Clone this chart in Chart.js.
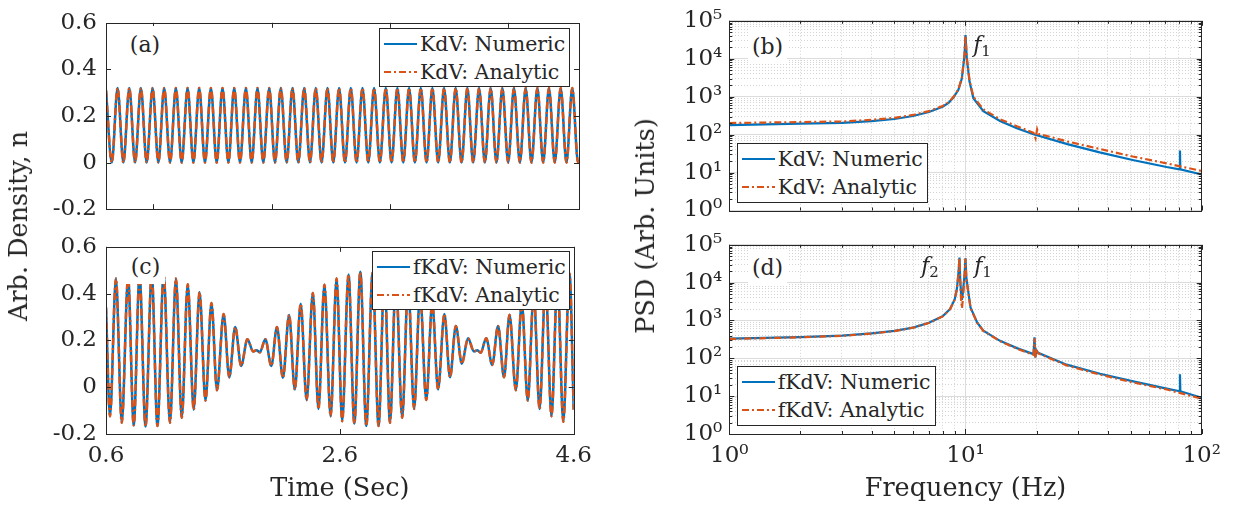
<!DOCTYPE html>
<html>
<head>
<meta charset="utf-8">
<script src="https://cdn.jsdelivr.net/npm/chart.js@4.4.1/dist/chart.umd.min.js"></script>
<style>
body { margin: 0; background: #fff; }
#fig { position: relative; width: 1238px; height: 508px; overflow: hidden; font-family: 'DejaVu Serif', serif; color: #262626; }
.panel { position: absolute; }
.tag { position: absolute; background: #fff; font-size: 22px; width: 39px; height: 36px; display: flex; align-items: center; justify-content: center; }
.ann { position: absolute; font-size: 22px; transform: translate(-50%, -50%); white-space: nowrap; }
.ann i { font-style: italic; }
.ann sub { font-size: 15px; vertical-align: -4px; }
.legend { position: absolute; background: #fff; border: 1px solid #262626; box-sizing: border-box; font-size: 20.5px; }
.legend .row { position: absolute; left: 0; height: 28px; display: flex; align-items: center; white-space: nowrap; }
.legend svg { margin-left: 4px; margin-right: 3px; }
.ytitle { position: absolute; font-size: 25.5px; transform: translate(-50%, -50%) rotate(-90deg); white-space: nowrap; }
</style>
</head>
<body>
<div id="fig">
	<div class="panel" style="left:0;top:0"><canvas id="chartA" width="600" height="232"></canvas></div>
	<div class="panel" style="left:0;top:224px"><canvas id="chartC" width="600" height="284"></canvas></div>
	<div class="panel" style="left:620px;top:0"><canvas id="chartB" width="618" height="232"></canvas></div>
	<div class="panel" style="left:620px;top:224px"><canvas id="chartD" width="618" height="284"></canvas></div>

	<div class="ytitle" style="left:18px;top:226px">Arb. Density, n</div>
	<div class="ytitle" style="left:645px;top:226px">PSD (Arb. Units)</div>

	<div class="tag" style="left:125.5px;top:26px">(a)</div>
	<div class="tag" style="left:126px;top:248px">(c)</div>
	<div class="tag" style="left:748px;top:28px">(b)</div>
	<div class="tag" style="left:748px;top:249px">(d)</div>

	<div class="ann" style="left:982px;top:46px"><i>f</i><sub>1</sub></div>
	<div class="ann" style="left:930px;top:267px"><i>f</i><sub>2</sub></div>
	<div class="ann" style="left:983px;top:267px"><i>f</i><sub>1</sub></div>
</div>

<script>
// (a) KdV time series: local extrema (numeric and analytic coincide)
const kdvTime = [0.6,
	0.649, 0.698, 0.747, 0.797, 0.846, 0.895, 0.944, 0.994, 1.043, 1.092,
	1.142, 1.191, 1.240, 1.290, 1.339, 1.388, 1.437, 1.487, 1.536, 1.585,
	1.635, 1.684, 1.733, 1.783, 1.832, 1.881, 1.930, 1.980, 2.029, 2.078,
	2.128, 2.177, 2.226, 2.276, 2.325, 2.374, 2.423, 2.473, 2.522, 2.571,
	2.621, 2.670, 2.719, 2.769, 2.818, 2.867, 2.916, 2.966, 3.015, 3.064,
	3.114, 3.163, 3.212, 3.262, 3.311, 3.360, 3.409, 3.459, 3.508, 3.557,
	3.607, 3.656, 3.705, 3.755, 3.804, 3.853, 3.902, 3.952, 4.001, 4.050,
	4.100, 4.149, 4.198, 4.248, 4.297, 4.346, 4.395, 4.445, 4.494, 4.543,
	4.592, 4.6];
const kdvDensity = [0.31,
	0, 0.32, 0, 0.32, 0, 0.32, 0, 0.32, 0, 0.32,
	0, 0.32, 0, 0.32, 0, 0.32, 0, 0.32, 0, 0.32,
	0, 0.32, 0, 0.32, 0, 0.32, 0, 0.32, 0, 0.32,
	0, 0.32, 0, 0.32, 0, 0.32, 0, 0.32, 0, 0.32,
	0, 0.32, 0, 0.32, 0, 0.32, 0, 0.32, 0, 0.32,
	0, 0.32, 0, 0.32, 0, 0.32, 0, 0.32, 0, 0.32,
	0, 0.32, 0, 0.32, 0, 0.32, 0, 0.32, 0, 0.32,
	0, 0.32, 0, 0.32, 0, 0.32, 0, 0.32, 0, 0.32,
	0, 0.01];

// (c) fKdV time series (beating), local extrema
const fkdvTime = [0.6, 0.634, 0.685, 0.735, 0.789, 0.837, 0.887, 0.938, 0.991, 1.040,
	1.093, 1.147, 1.198, 1.248, 1.299, 1.350, 1.400, 1.451, 1.502, 1.549,
	1.606, 1.654, 1.705, 1.756, 1.809, 1.859, 1.887, 1.916, 1.963, 2.014,
	2.062, 2.113, 2.166, 2.215, 2.265, 2.316, 2.369, 2.417, 2.468, 2.521,
	2.572, 2.620, 2.674, 2.724, 2.775, 2.826, 2.880, 2.931, 2.981, 3.029,
	3.079, 3.133, 3.184, 3.235, 3.286, 3.339, 3.390, 3.440, 3.494, 3.542,
	3.592, 3.643, 3.696, 3.747, 3.776, 3.804, 3.852, 3.903, 3.953, 4.004,
	4.051, 4.105, 4.156, 4.207, 4.258, 4.308, 4.359, 4.410, 4.461, 4.511,
	4.564, 4.6];
const fkdvDensity = [0.34, -0.124, 0.465, -0.152, 0.47, -0.163, 0.48, -0.168, 0.485, -0.166,
	0.486, -0.152, 0.465, -0.131, 0.44, -0.096, 0.406, -0.057, 0.36, -0.013,
	0.313, 0.042, 0.257, 0.091, 0.205, 0.153, 0.158, 0.149, 0.205, 0.091,
	0.257, 0.04, 0.309, -0.01, 0.357, -0.055, 0.403, -0.093, 0.438, -0.124,
	0.465, -0.145, 0.482, -0.155, 0.493, -0.166, 0.49, -0.166, 0.48, -0.152,
	0.46, -0.131, 0.44, -0.093, 0.40, -0.055, 0.36, -0.01, 0.313, 0.042,
	0.262, 0.1, 0.209, 0.153, 0.158, 0.147, 0.209, 0.095, 0.262, 0.042,
	0.31, -0.013, 0.36, -0.057, 0.40, -0.093, 0.44, -0.124, 0.46, -0.148,
	0.486, -0.096];

// (b) KdV power spectra
const kdvFreqNumeric = [1, 2, 3, 4, 5, 6, 7, 8, 8.5, 8.9, 9.33, 9.65, 9.9, 10, 10.13, 10.4, 10.8, 11.9, 14, 16.5, 19.4, 27, 37, 51, 71, 80.6, 80.9, 81.2, 100];
const kdvPsdNumeric = [179, 196, 205, 226, 258, 310, 395, 545, 700, 960, 1520, 3000, 12000, 42000, 10000, 2500, 910, 417, 229, 148, 102, 56, 34, 21.5, 14, 12.2, 38, 12.2, 8.9];
const kdvFreqAnalytic = [1, 2, 3, 4, 5, 6, 7, 8, 8.5, 8.9, 9.33, 9.65, 9.9, 10, 10.13, 10.4, 10.8, 11.9, 14, 16.5, 19.4, 19.8, 20.1, 20.4, 21, 27, 37, 51, 71, 100];
const kdvPsdAnalytic = [202, 214, 222, 245, 275, 330, 415, 565, 720, 990, 1560, 3100, 12500, 40000, 10500, 2700, 1000, 460, 255, 166, 112, 80, 138, 104, 100, 66, 42, 26.5, 17.5, 11];

// (d) fKdV power spectra
const fkdvFreqNumeric = [1, 2, 3, 4, 5, 6, 7, 8, 8.6, 9.0, 9.2, 9.35, 9.43, 9.5, 9.58, 9.66, 9.75, 9.9, 10.0, 10.08, 10.2, 10.5, 11.2, 11.9, 14, 16.5, 19.4, 19.6, 19.75, 19.95, 20.3, 26.8, 37.1, 51.3, 71.1, 80.6, 80.9, 81.2, 100];
const fkdvPsdNumeric = [330, 363, 398, 455, 530, 650, 870, 1290, 2000, 3600, 7000, 20000, 46000, 12000, 5000, 3500, 5500, 15000, 44000, 14000, 8000, 2200, 890, 540, 290, 186, 129, 360, 105, 165, 140, 68, 39, 24.5, 15.8, 13.5, 38, 13.5, 9.1];
const fkdvFreqAnalytic = [1, 2, 3, 4, 5, 6, 7, 8, 8.6, 9.0, 9.2, 9.35, 9.43, 9.5, 9.58, 9.66, 9.75, 9.9, 10.0, 10.08, 10.2, 10.5, 11.2, 11.9, 14, 16.5, 19.4, 19.6, 19.75, 19.95, 20.3, 26.8, 37.1, 51.3, 71.1, 100];
const fkdvPsdAnalytic = [325, 358, 392, 450, 525, 645, 860, 1280, 1980, 3550, 6900, 19000, 45000, 10000, 3500, 2100, 3800, 13000, 43000, 13000, 7800, 2150, 870, 530, 283, 180, 124, 340, 100, 160, 136, 65, 37, 23, 15, 8.6];

// tick lists
const kdvTimeTicks = [1, 2, 3, 4];
const fkdvTimeTicks = [0.6, 2.6, 4.6];
const densityTicks = [-0.2, 0, 0.2, 0.4, 0.6];

const blue = '#0072BD';
const orange = '#D95319';
const axisColor = '#262626';
const serif = "'DejaVu Serif', serif";
const dashDot = [7, 3, 2, 3];
const sup = {'0': '\u2070', '1': '\u00B9', '2': '\u00B2', '3': '\u00B3', '4': '\u2074', '5': '\u2075'};

function isDecade(v) {
	const e = Math.log10(v);
	return Math.abs(e - Math.round(e)) < 1e-6;
}
function decadeTicks(min, max) {
	const out = [];
	for (let e = Math.round(Math.log10(min)); e < Math.round(Math.log10(max)); e++) {
		for (let m = 1; m < 10; m++) out.push({value: m * Math.pow(10, e)});
	}
	out.push({value: max});
	return out;
}
function powLabel(v) {
	return isDecade(v) ? '10' + sup[String(Math.round(Math.log10(v)))] : '';
}
function toPoints(xs, ys) {
	return xs.map((x, i) => ({x: x, y: ys[i]}));
}

// box around the axes with inward ticks on all four sides
const axesBox = {
	id: 'axesBox',
	afterDraw(chart) {
		const {ctx, chartArea: a, scales} = chart;
		ctx.save();
		ctx.strokeStyle = axisColor;
		ctx.lineWidth = 1;
		ctx.beginPath();
		scales.x.ticks.forEach(t => {
			const p = Math.round(scales.x.getPixelForValue(t.value)) + 0.5;
			const len = scales.x.type === 'logarithmic' && !isDecade(t.value) ? 3 : 5;
			ctx.moveTo(p, a.bottom); ctx.lineTo(p, a.bottom - len);
			ctx.moveTo(p, a.top); ctx.lineTo(p, a.top + len);
		});
		scales.y.ticks.forEach(t => {
			const p = Math.round(scales.y.getPixelForValue(t.value)) + 0.5;
			const len = scales.y.type === 'logarithmic' && !isDecade(t.value) ? 3 : 5;
			ctx.moveTo(a.left, p); ctx.lineTo(a.left + len, p);
			ctx.moveTo(a.right, p); ctx.lineTo(a.right - len, p);
		});
		ctx.stroke();
		ctx.strokeRect(Math.round(a.left) + 0.5, Math.round(a.top) + 0.5, Math.round(a.width), Math.round(a.height));
		ctx.restore();
	}
};

function addLegend(chart, left, top, width, height) {
	const box = document.createElement('div');
	box.className = 'legend';
	box.style.left = left + 'px';
	box.style.top = top + 'px';
	box.style.width = width + 'px';
	box.style.height = height + 'px';
	chart.data.datasets.forEach((ds, i) => {
		const row = document.createElement('div');
		row.className = 'row';
		row.style.top = (1 + i * 28) + 'px';
		const dash = ds.borderDash ? ds.borderDash.join(' ') : 'none';
		row.innerHTML = '<svg width="33" height="6"><line x1="0" y1="3" x2="33" y2="3" stroke="' + ds.borderColor +
			'" stroke-width="2" stroke-dasharray="' + dash + '"/></svg><span>' + ds.label + '</span>';
		box.appendChild(row);
	});
	document.getElementById('fig').appendChild(box);
}

function timeChart(id, time, values, names, xTicks, showX, padTop, xHeight) {
	const points = toPoints(time, values);
	return new Chart(document.getElementById(id), {
		type: 'line',
		data: {
			datasets: [
				{label: names[0], data: points, borderColor: blue, borderWidth: 2.5, pointRadius: 0, cubicInterpolationMode: 'monotone', order: 2},
				{label: names[1], data: points, borderColor: orange, borderWidth: 2.5, borderDash: dashDot, pointRadius: 0, cubicInterpolationMode: 'monotone', order: 1}
			]
		},
		options: {
			responsive: false,
			animation: false,
			events: [],
			layout: {padding: {top: padTop, right: 21, left: 0, bottom: 0}},
			plugins: {legend: {display: false}, tooltip: {enabled: false}},
			scales: {
				x: {
					type: 'linear', min: 0.6, max: 4.6,
					afterBuildTicks: s => { s.ticks = xTicks.map(v => ({value: v})); },
					afterFit: s => { s.height = xHeight; },
					grid: {display: false, drawTicks: false},
					border: {display: false},
					ticks: {display: showX, padding: 8, color: axisColor, maxRotation: 0, autoSkip: false, font: {family: serif, size: 23}, callback: v => String(v)},
					title: {display: showX, text: 'Time (Sec)', color: axisColor, font: {family: serif, size: 25.5}, padding: {top: 0, bottom: 3}}
				},
				y: {
					type: 'linear', min: -0.2, max: 0.6,
					afterBuildTicks: s => { s.ticks = densityTicks.map(v => ({value: v})); },
					afterFit: s => { s.width = 106; },
					grid: {display: false, drawTicks: false},
					border: {display: false},
					ticks: {padding: 9, color: axisColor, autoSkip: false, font: {family: serif, size: 23}, callback: v => Math.abs(v) < 1e-9 ? '0' : v.toFixed(1)}
				}
			}
		},
		plugins: [axesBox]
	});
}

function psdChart(id, sets, showX, padTop, xHeight) {
	return new Chart(document.getElementById(id), {
		type: 'line',
		data: {
			datasets: [
				{label: sets[0].name, data: toPoints(sets[0].f, sets[0].p), borderColor: blue, borderWidth: 2.2, pointRadius: 0, tension: 0, order: 2},
				{label: sets[1].name, data: toPoints(sets[1].f, sets[1].p), borderColor: orange, borderWidth: 2.2, borderDash: dashDot, pointRadius: 0, tension: 0, order: 1}
			]
		},
		options: {
			responsive: false,
			animation: false,
			events: [],
			layout: {padding: {top: padTop, right: 36.3, left: 0, bottom: 0}},
			plugins: {legend: {display: false}, tooltip: {enabled: false}},
			scales: {
				x: {
					type: 'logarithmic', min: 1, max: 100,
					afterBuildTicks: s => { s.ticks = decadeTicks(1, 100); },
					afterFit: s => { s.height = xHeight; },
					grid: {drawTicks: false, color: c => isDecade(c.tick.value) ? '#dcdcdc' : '#d4d4d4', lineWidth: 1},
					border: {display: false, dash: c => (c.tick && !isDecade(c.tick.value)) ? [1, 2] : []},
					ticks: {display: showX, padding: 8, color: axisColor, maxRotation: 0, autoSkip: false, font: {family: serif, size: 23}, callback: v => powLabel(v)},
					title: {display: showX, text: 'Frequency (Hz)', color: axisColor, font: {family: serif, size: 25.5}, padding: {top: 0, bottom: 3}}
				},
				y: {
					type: 'logarithmic', min: 1, max: 100000,
					afterBuildTicks: s => { s.ticks = decadeTicks(1, 100000); },
					afterFit: s => { s.width = 109.3; },
					grid: {drawTicks: false, color: c => isDecade(c.tick.value) ? '#dcdcdc' : '#d4d4d4', lineWidth: 1},
					border: {display: false, dash: c => (c.tick && !isDecade(c.tick.value)) ? [1, 2] : []},
					ticks: {padding: 7, color: axisColor, autoSkip: false, font: {family: serif, size: 23}, callback: v => powLabel(v)}
				}
			}
		},
		plugins: [axesBox]
	});
}

document.addEventListener('DOMContentLoaded', function(event) {
	const chartA = timeChart('chartA', kdvTime, kdvDensity, ['KdV: Numeric', 'KdV: Analytic'], kdvTimeTicks, false, 18.5, 21.5);
	const chartC = timeChart('chartC', fkdvTime, fkdvDensity, ['fKdV: Numeric', 'fKdV: Analytic'], fkdvTimeTicks, true, 18, 74);
	const chartB = psdChart('chartB', [
		{name: 'KdV: Numeric', f: kdvFreqNumeric, p: kdvPsdNumeric},
		{name: 'KdV: Analytic', f: kdvFreqAnalytic, p: kdvPsdAnalytic}
	], false, 18.5, 21.5);
	const chartD = psdChart('chartD', [
		{name: 'fKdV: Numeric', f: fkdvFreqNumeric, p: fkdvPsdNumeric},
		{name: 'fKdV: Analytic', f: fkdvFreqAnalytic, p: fkdvPsdAnalytic}
	], true, 18, 74);

	addLegend(chartA, 379, 27.5, 191, 59);
	addLegend(chartC, 372, 251, 198, 59);
	addLegend(chartB, 736.7, 142.7, 191.6, 60);
	addLegend(chartD, 736.7, 366, 199.3, 60);
});
</script>
</body>
</html>
